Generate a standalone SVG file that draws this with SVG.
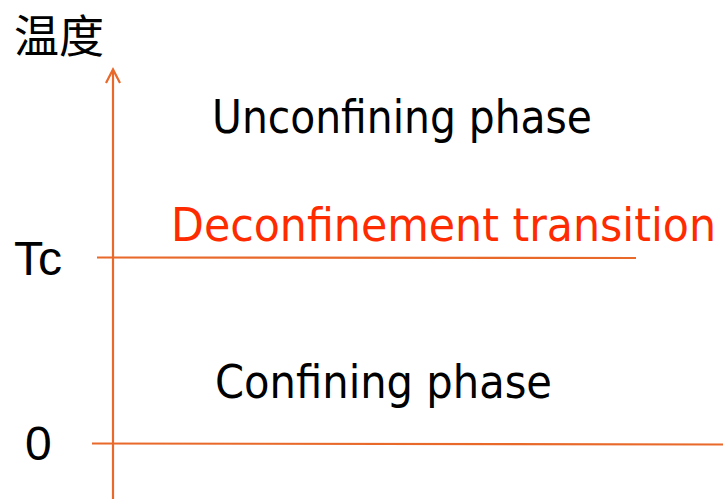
<svg xmlns="http://www.w3.org/2000/svg" width="723" height="499" viewBox="0 0 723 499">
<style>
.ax{stroke:#E8692A;stroke-width:2.2;fill:none}
.t{font-family:"DejaVu Sans Condensed","DejaVu Sans",sans-serif;fill:#000;font-size:47px}
.red{fill:#FF2B00}
</style>
<rect width="723" height="499" fill="#fff"/>
<g id="connectors">
<line class="ax" x1="113" y1="499" x2="113" y2="70"/>
<path class="ax" d="M106,83 L113,69.5 L120,83"/>
<line class="ax" x1="97" y1="257.5" x2="636" y2="258"/>
<line class="ax" x1="92" y1="443.5" x2="723" y2="444.5"/>
</g>
<g id="labels">
<text x="14" y="53" font-size="45" style="font-family:'Noto Sans CJK SC',sans-serif">温度</text>
<text x="14" y="275" font-size="48" style="font-family:'Liberation Sans',sans-serif">Tc</text>
<text x="25" y="460" font-size="48" style="font-family:'Liberation Sans',sans-serif">0</text>
</g>
<g id="phase-unconfining"><text class="t" x="212" y="133" textLength="380" lengthAdjust="spacingAndGlyphs">Unconfining phase</text></g>
<g id="transition"><text class="t red" x="171" y="241" textLength="545" lengthAdjust="spacingAndGlyphs">Deconfinement transition</text></g>
<g id="phase-confining"><text class="t" x="215" y="398" textLength="337" lengthAdjust="spacingAndGlyphs">Confining phase</text></g>
</svg>
